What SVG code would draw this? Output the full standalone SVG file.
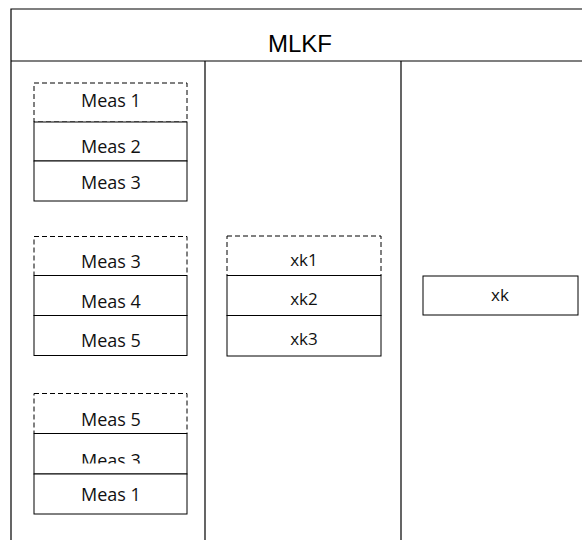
<svg xmlns="http://www.w3.org/2000/svg" width="582" height="540" viewBox="0 0 582 540">
  <style>
    .frame { fill: none; stroke: #000; stroke-width: 1.2; }
    .cell { fill: #fff; stroke: #000; stroke-width: 1; }
    .dash { fill: #fff; stroke: #000; stroke-width: 1; stroke-dasharray: 5 3; }
    .title { font-family: "Liberation Sans", Arial, sans-serif; font-size: 24px; fill: #000; text-anchor: middle; }
    .meas { font-family: "Open Sans", "Noto Sans", sans-serif; font-size: 18px; fill: #111; text-anchor: middle; }
    .state { font-family: "Open Sans", "Noto Sans", sans-serif; font-size: 17px; fill: #111; text-anchor: middle; }
  </style>
  <defs>
    <clipPath id="clip-meas3b">
      <rect x="34" y="440" width="153" height="23.5"/>
    </clipPath>
  </defs>
  <rect width="582" height="540" fill="#fff"/>

  <!-- table frame -->
  <g id="frame">
    <path class="frame" d="M11,540 V9 H582 M11,61 H582 M205,61 V540 M401,61 V540"/>
    <text class="title" x="300" y="52">MLKF</text>
  </g>

  <!-- measurement windows -->
  <g id="window1">
    <rect class="dash" x="34" y="83" width="153" height="39"/>
    <text class="meas" x="111" y="107">Meas 1</text>
    <rect class="cell" x="34" y="122" width="153" height="39"/>
    <text class="meas" x="111" y="153">Meas 2</text>
    <rect class="cell" x="34" y="161" width="153" height="40"/>
    <text class="meas" x="111" y="189">Meas 3</text>
  </g>

  <g id="window2">
    <rect class="dash" x="34" y="236.5" width="153" height="39"/>
    <text class="meas" x="111" y="268">Meas 3</text>
    <rect class="cell" x="34" y="275.5" width="153" height="40"/>
    <text class="meas" x="111" y="308">Meas 4</text>
    <rect class="cell" x="34" y="315.5" width="153" height="40"/>
    <text class="meas" x="111" y="347">Meas 5</text>
  </g>

  <g id="window3">
    <rect class="dash" x="34" y="393.5" width="153" height="40"/>
    <text class="meas" x="111" y="425.5">Meas 5</text>
    <rect class="cell" x="34" y="433.5" width="153" height="40.5"/>
    <text class="meas" x="111" y="467" clip-path="url(#clip-meas3b)">Meas 3</text>
    <rect class="cell" x="34" y="474" width="153" height="40"/>
    <text class="meas" x="111" y="500.5">Meas 1</text>
  </g>

  <!-- state estimates -->
  <g id="states">
    <rect class="dash" x="227" y="236" width="154" height="39.5"/>
    <text class="state" x="304" y="265.5">xk1</text>
    <rect class="cell" x="227" y="275.5" width="154" height="40"/>
    <text class="state" x="304" y="305">xk2</text>
    <rect class="cell" x="227" y="315.5" width="154" height="40.5"/>
    <text class="state" x="304" y="345">xk3</text>
  </g>

  <g id="fused">
    <rect class="cell" x="423" y="276" width="155" height="39"/>
    <text class="state" x="500" y="301">xk</text>
  </g>
</svg>
